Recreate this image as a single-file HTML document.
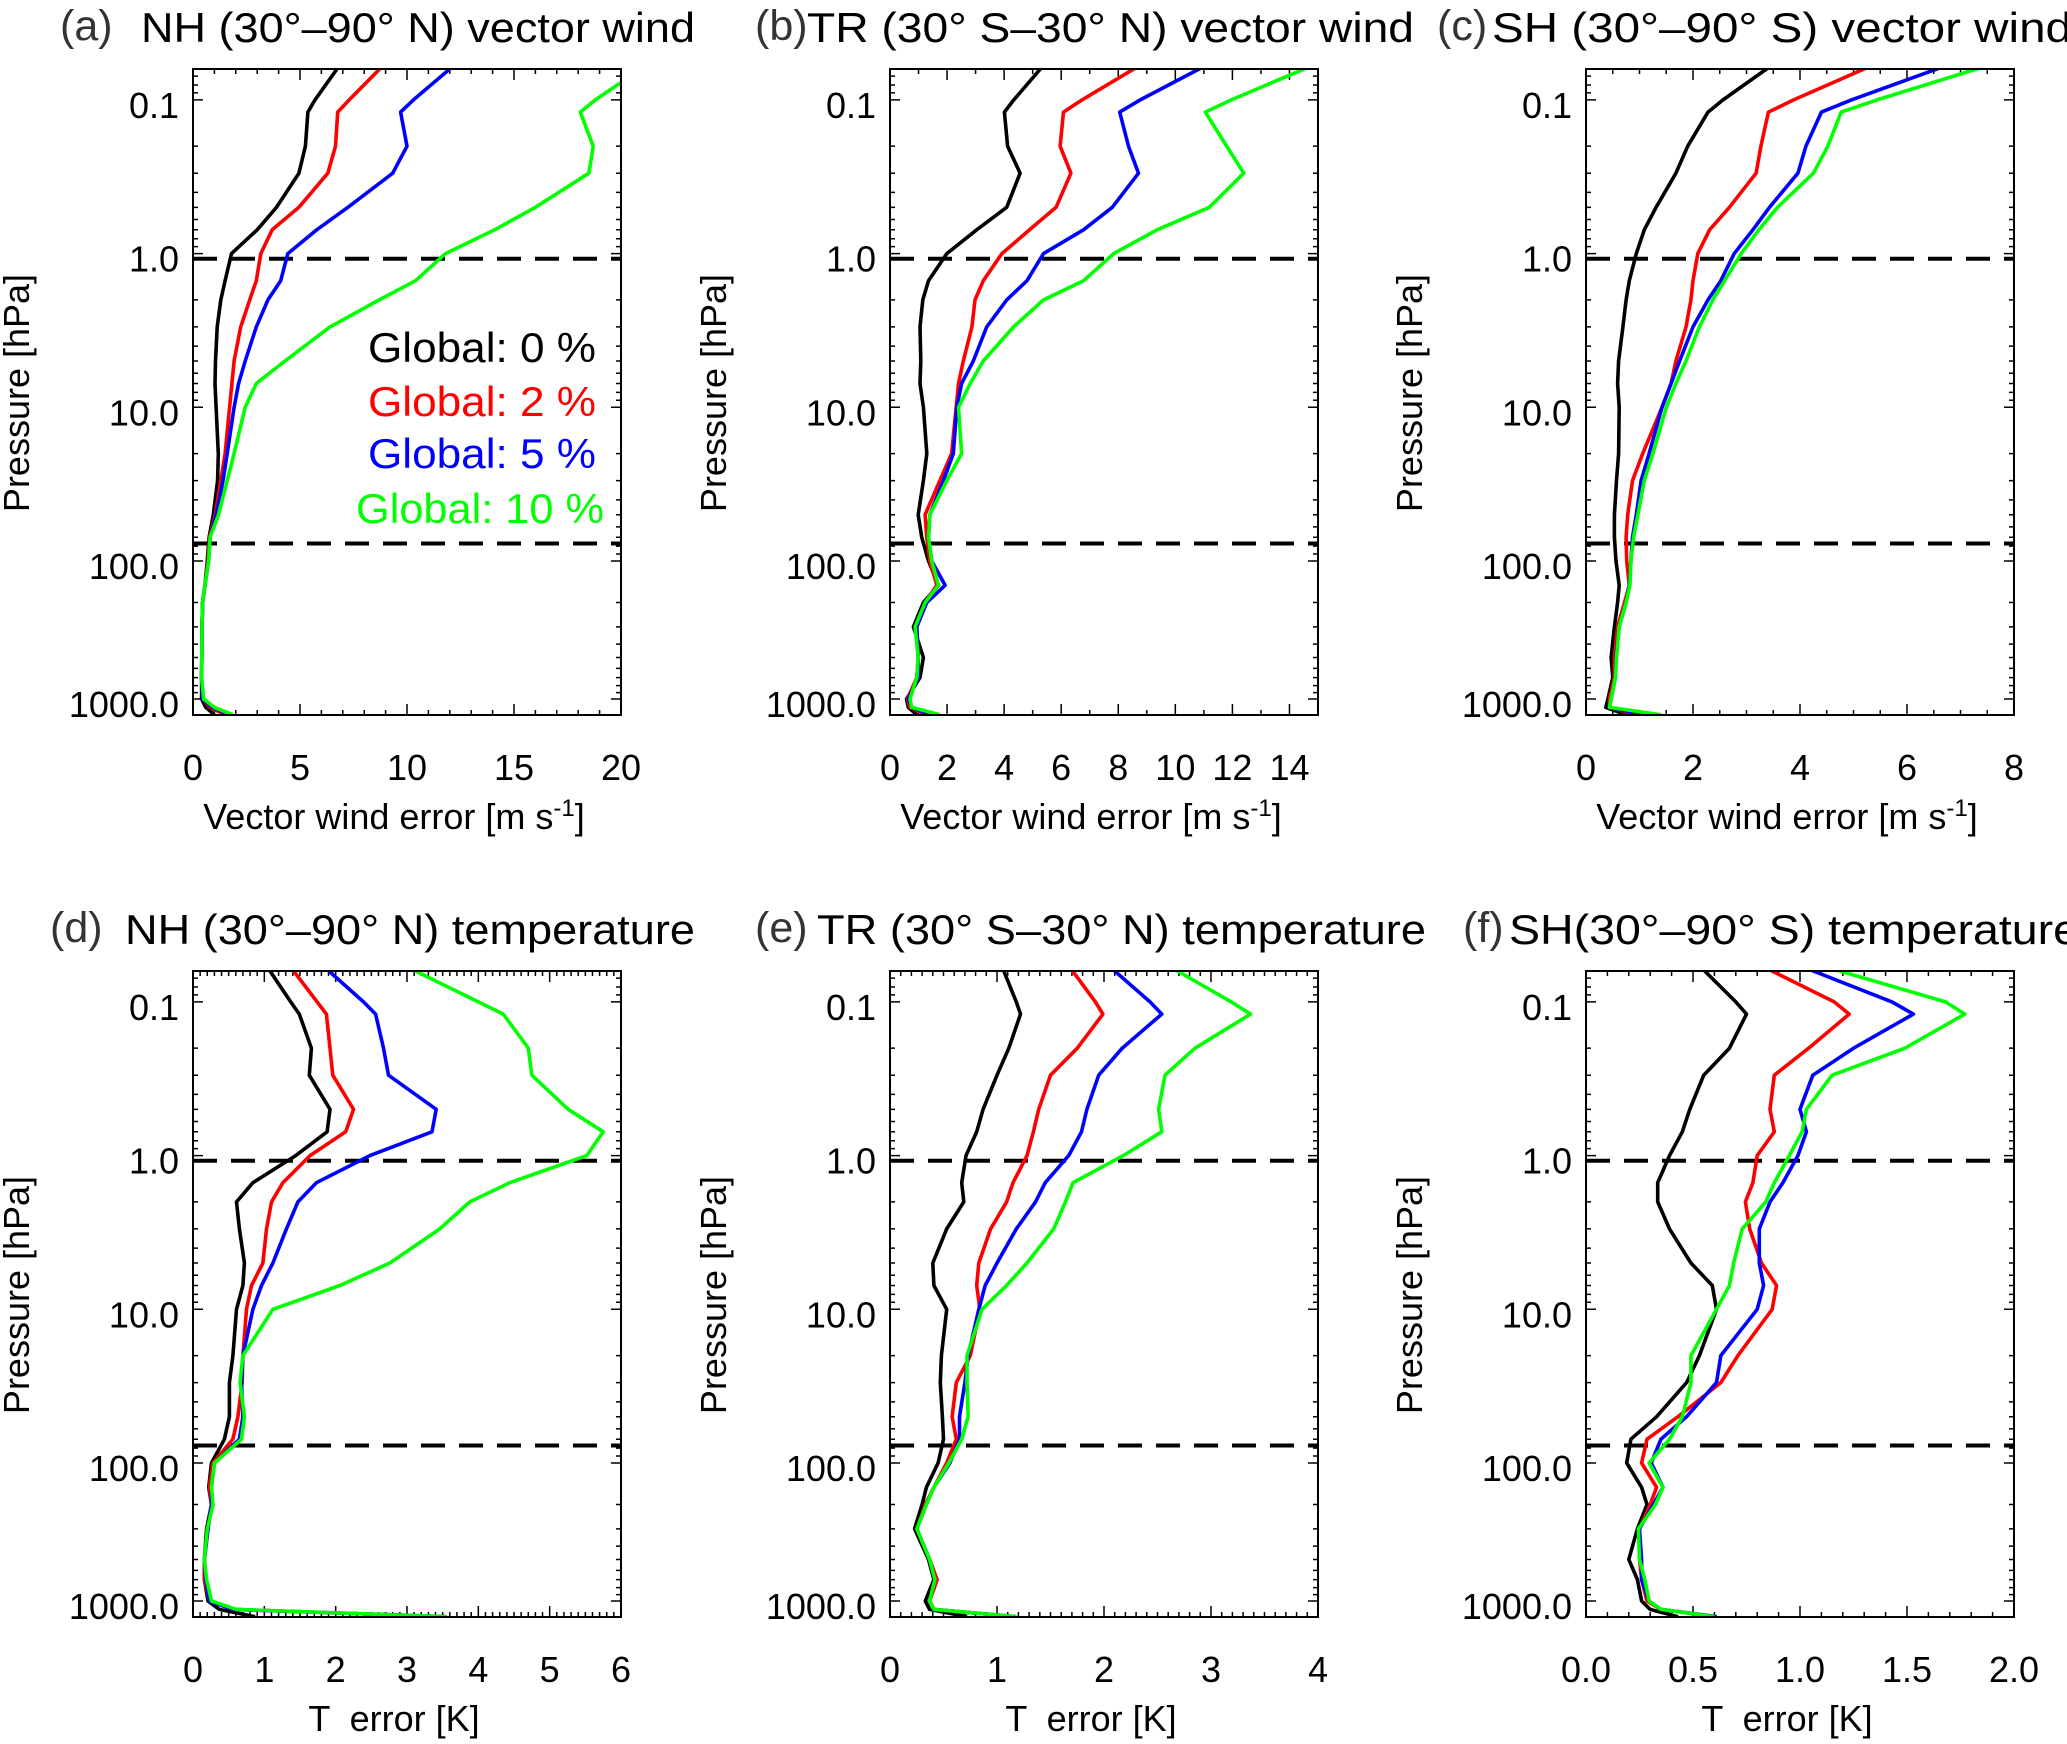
<!DOCTYPE html>
<html><head><meta charset="utf-8">
<style>
html,body{margin:0;padding:0;background:#fff;overflow:hidden;}
svg{display:block;font-family:"Liberation Sans",Arial,sans-serif;}
</style></head>
<body>
<svg id="fig" width="2067" height="1744" viewBox="0 0 2067 1744" xmlns="http://www.w3.org/2000/svg"></svg>
<script>
// Shared pressure levels (hPa)
const P = [0.062,0.1,0.12,0.2,0.3,0.5,0.7,1,1.5,2,3,5,7,10,20,30,50,70,100,150,200,300,500,700,1000,1150,1300];
const dashedLevels = [1.08, 77];

// (a) NH vector wind
const windNH0  = [6.76,5.7,5.37,5.25,4.95,3.9,3.0,1.8,1.5,1.3,1.13,1.05,1.03,1.08,1.18,1.15,0.95,0.75,0.67,0.56,0.45,0.42,0.41,0.4,0.4,0.6,1.0];
const windNH2  = [8.77,7.3,6.76,6.66,6.3,4.95,3.7,3.17,2.96,2.65,2.23,1.92,1.82,1.71,1.5,1.3,1.04,0.77,0.7,0.56,0.45,0.42,0.41,0.4,0.45,0.8,1.5];
const windNH5  = [12.05,10.3,9.7,10.0,9.33,7.24,5.78,4.43,4.1,3.5,2.96,2.44,2.13,1.92,1.6,1.4,1.09,0.8,0.73,0.56,0.45,0.42,0.41,0.4,0.45,0.9,1.7];
const windNH10 = [21,18.8,18.1,18.7,18.5,16.0,14.1,11.8,10.4,8.7,6.4,4.3,2.96,2.44,1.92,1.6,1.19,0.8,0.73,0.56,0.45,0.42,0.41,0.4,0.5,1.0,1.85];
// (b) TR vector wind
const windTR0  = [5.3,4.34,4.01,4.12,4.56,4.09,3.04,1.99,1.35,1.15,1.05,1.08,1.05,1.17,1.29,1.17,0.99,1.11,1.35,1.70,1.17,0.82,1.17,1.05,0.58,0.64,0.94];
const windTR2  = [8.6,6.73,6.08,5.96,6.34,5.82,4.89,3.92,3.27,2.98,2.87,2.57,2.40,2.32,2.16,1.75,1.23,1.29,1.40,1.64,1.23,0.94,0.99,0.94,0.61,0.70,1.29];
const windTR5  = [10.9,8.77,8.05,8.36,8.71,7.79,6.78,5.38,4.8,4.09,3.39,2.92,2.51,2.34,2.22,1.87,1.40,1.35,1.46,1.93,1.29,0.94,0.99,0.99,0.64,0.76,1.40];
const windTR10 = [14.6,11.96,11.05,11.8,12.4,11.19,9.36,7.84,6.78,5.38,4.33,3.27,2.81,2.40,2.51,1.99,1.40,1.35,1.46,1.70,1.23,0.88,0.99,0.94,0.70,0.76,1.75];
// (c) SH vector wind
const windSH0  = [3.40,2.56,2.28,1.90,1.68,1.31,1.09,0.94,0.81,0.75,0.69,0.61,0.59,0.62,0.61,0.57,0.53,0.53,0.56,0.62,0.59,0.53,0.47,0.50,0.41,0.37,0.75];
const windSH2  = [5.24,3.88,3.41,3.27,3.18,2.68,2.31,2.09,2.0,1.96,1.87,1.68,1.59,1.42,1.06,0.87,0.78,0.75,0.76,0.81,0.72,0.59,0.53,0.53,0.44,0.44,0.94];
const windSH5  = [6.61,4.96,4.40,4.11,3.96,3.43,3.12,2.77,2.52,2.28,2.0,1.75,1.59,1.42,1.18,1.03,0.94,0.87,0.84,0.81,0.75,0.62,0.56,0.55,0.47,0.44,1.06];
const windSH10 = [7.36,5.44,4.77,4.52,4.25,3.58,3.23,2.90,2.59,2.37,2.12,1.87,1.68,1.50,1.25,1.09,0.97,0.89,0.84,0.82,0.75,0.62,0.57,0.55,0.47,0.44,1.40];
// (d) NH temperature
const tempNH0  = [1.07,1.37,1.49,1.66,1.63,1.92,1.88,1.44,0.84,0.61,0.65,0.72,0.70,0.61,0.56,0.51,0.51,0.44,0.26,0.22,0.26,0.19,0.16,0.16,0.21,0.37,0.87];
const tempNH2  = [1.40,1.74,1.87,1.92,1.96,2.25,2.14,1.64,1.26,1.10,1.03,0.98,0.82,0.75,0.70,0.69,0.63,0.56,0.28,0.23,0.26,0.21,0.16,0.16,0.23,0.56,3.55];
const tempNH5  = [1.89,2.39,2.56,2.67,2.74,3.41,3.35,2.48,1.73,1.47,1.31,1.12,0.96,0.84,0.70,0.68,0.70,0.65,0.30,0.26,0.26,0.21,0.16,0.18,0.23,0.56,3.55];
const tempNH10 = [3.09,4.0,4.35,4.70,4.75,5.26,5.75,5.52,4.44,3.88,3.46,2.76,2.06,1.12,0.70,0.66,0.72,0.68,0.30,0.26,0.28,0.20,0.16,0.19,0.26,0.61,3.55];
// (e) TR temperature
const tempTR0  = [1.06,1.18,1.22,1.11,1.0,0.87,0.81,0.71,0.67,0.69,0.53,0.40,0.41,0.53,0.48,0.47,0.49,0.50,0.45,0.34,0.30,0.23,0.36,0.41,0.33,0.37,0.72];
const tempTR2  = [1.70,1.92,1.99,1.75,1.50,1.39,1.34,1.28,1.15,1.09,0.94,0.83,0.81,0.84,0.75,0.62,0.58,0.62,0.53,0.41,0.33,0.25,0.37,0.44,0.37,0.41,1.18];
const tempTR5  = [2.09,2.43,2.54,2.17,1.95,1.84,1.79,1.67,1.45,1.36,1.18,1.0,0.89,0.83,0.73,0.70,0.65,0.65,0.56,0.41,0.34,0.25,0.37,0.42,0.37,0.41,1.18];
const tempTR10 = [2.67,3.19,3.37,2.85,2.57,2.51,2.54,2.18,1.71,1.64,1.53,1.28,1.09,0.86,0.72,0.72,0.73,0.67,0.55,0.41,0.34,0.25,0.37,0.42,0.37,0.41,1.18];
// (f) SH temperature
const tempSH0  = [0.55,0.70,0.75,0.67,0.55,0.485,0.45,0.39,0.335,0.335,0.39,0.49,0.59,0.61,0.53,0.47,0.33,0.21,0.19,0.26,0.285,0.24,0.20,0.24,0.26,0.30,0.43];
const tempSH2  = [0.86,1.16,1.23,1.04,0.88,0.86,0.88,0.80,0.78,0.745,0.765,0.82,0.89,0.87,0.71,0.63,0.43,0.285,0.26,0.33,0.30,0.25,0.25,0.26,0.285,0.35,0.61];
const tempSH5  = [1.05,1.43,1.53,1.25,1.06,1.0,1.03,0.99,0.92,0.86,0.81,0.81,0.83,0.80,0.63,0.61,0.47,0.35,0.305,0.36,0.315,0.25,0.26,0.26,0.295,0.35,0.61];
const tempSH10 = [1.17,1.68,1.77,1.49,1.15,1.03,1.01,0.95,0.88,0.84,0.73,0.69,0.67,0.61,0.49,0.49,0.45,0.39,0.295,0.36,0.325,0.245,0.25,0.275,0.295,0.35,0.60];

// Tick labels
const yTickValues = [0.1,1,10,100,1000];
const yTickLabels = ['0.1','1.0','10.0','100.0','1000.0'];
const xTicksA = ['0','5','10','15','20'];
const xTicksB = ['0','2','4','6','8','10','12','14'];
const xTicksC = ['0','2','4','6','8'];
const xTicksD = ['0','1','2','3','4','5','6'];
const xTicksE = ['0','1','2','3','4'];
const xTicksF = ['0.0','0.5','1.0','1.5','2.0'];
const legendLabels = ['Global: 0 %','Global: 2 %','Global: 5 %','Global: 10 %'];
const colors = ['#000000','#ff0000','#0000ff','#00ff00'];

const panels = [
 {id:'a',left:193,row:0,xmax:20,major:5,minor:1,ticks:xTicksA,series:[windNH0,windNH2,windNH5,windNH10],
  lx:60,tx:141,tw:554,title:'NH (30°–90° N) vector wind',xt:'wind'},
 {id:'b',left:890,row:0,xmax:15,major:2,minor:1,ticks:xTicksB,series:[windTR0,windTR2,windTR5,windTR10],
  lx:755,tx:807,tw:607,title:'TR (30° S–30° N) vector wind',xt:'wind'},
 {id:'c',left:1586,row:0,xmax:8,major:2,minor:0.5,ticks:xTicksC,series:[windSH0,windSH2,windSH5,windSH10],
  lx:1437,tx:1492,tw:580,title:'SH (30°–90° S) vector wind',xt:'wind'},
 {id:'d',left:193,row:1,xmax:6,major:1,minor:0.1,ticks:xTicksD,series:[tempNH0,tempNH2,tempNH5,tempNH10],
  lx:50,tx:125,tw:570,title:'NH (30°–90° N) temperature',xt:'temp'},
 {id:'e',left:890,row:1,xmax:4,major:1,minor:0.1,ticks:xTicksE,series:[tempTR0,tempTR2,tempTR5,tempTR10],
  lx:755,tx:817,tw:609,title:'TR (30° S–30° N) temperature',xt:'temp'},
 {id:'f',left:1586,row:1,xmax:2,major:0.5,minor:0.1,ticks:xTicksF,series:[tempSH0,tempSH2,tempSH5,tempSH10],
  lx:1463,tx:1509,tw:570,title:'SH(30°–90° S) temperature',xt:'temp'}
];

const NS='http://www.w3.org/2000/svg';
const fig=document.getElementById('fig');
const W=428, TOP=69, BOT=715, ROWOFF=902;
function el(tag,parent){const e=document.createElementNS(NS,tag);parent.appendChild(e);return e;}
function yOf(p,row){const y = p<=100 ? 561+153.7*Math.log10(p/100) : 561+138*Math.log10(p/100); return y+row*ROWOFF;}

panels.forEach(pn=>{
  const off=pn.row*ROWOFF, L=pn.left, T=TOP+off, B=BOT+off;
  const xOf=v=>L+v/pn.xmax*W;
  const g=el('g',fig);
  
  

  const lab=el('text',g);
  
  
  lab.setAttribute('x',pn.lx);lab.setAttribute('y',40+off);
  lab.setAttribute('font-size','43');lab.setAttribute('fill','#333');
  lab.textContent='('+pn.id+')';
  const tt=el('text',g);
  
  
  tt.setAttribute('x',pn.tx);tt.setAttribute('y',42+off);
  tt.setAttribute('font-size','42');
  tt.setAttribute('textLength',pn.tw);tt.setAttribute('lengthAdjust','spacingAndGlyphs');
  tt.textContent=pn.title;

  const cp=el('clipPath',g);cp.setAttribute('id','clip'+pn.id);
  const cr=el('rect',cp);cr.setAttribute('x',L);cr.setAttribute('y',T);cr.setAttribute('width',W);cr.setAttribute('height',B-T);

  const yt=el('g',g);
  
  
  let d='';
  for(let e=-2;e<=3;e++){for(let m=1;m<=9;m++){const p=m*Math.pow(10,e);if(p<0.062||p>1300)continue;const y=yOf(p,pn.row);const len=m===1?10:5;d+=`M${L} ${y}h${len}M${L+W} ${y}h${-len}`;}}
  const nMin=Math.round(pn.xmax/pn.minor);
  for(let i=0;i<=nMin;i++){const v=i*pn.minor;const isMaj=Math.abs(v/pn.major-Math.round(v/pn.major))<1e-6;const len=isMaj?11:5;const x=xOf(v);d+=`M${x} ${B}v${-len}M${x} ${T}v${len}`;}
  const tk=el('path',yt);tk.setAttribute('d',d);tk.setAttribute('stroke','#000');tk.setAttribute('stroke-width','1.5');tk.setAttribute('fill','none');
  yTickValues.forEach((p,i)=>{
    const t=el('text',yt);
    
    
    t.setAttribute('x',L-14);t.setAttribute('y',yOf(p,pn.row)+18);
    t.setAttribute('font-size','36');t.setAttribute('text-anchor','end');
    t.textContent=yTickLabels[i];
  });
  const yl=el('text',yt);
  
  
  yl.setAttribute('transform',`translate(${L-164},${393+off}) rotate(-90)`);
  yl.setAttribute('font-size','36');yl.setAttribute('text-anchor','middle');
  yl.textContent='Pressure [hPa]';

  const xa=el('g',g);
  
  
  pn.ticks.forEach((lb,i)=>{
    const t=el('text',xa);
    
    
    t.setAttribute('x',xOf(i*pn.major));t.setAttribute('y',780+off);
    t.setAttribute('font-size','36');t.setAttribute('text-anchor','middle');
    t.textContent=lb;
  });
  const xl=el('text',xa);
  
  
  xl.setAttribute('x',L+201);xl.setAttribute('y',829+off);
  xl.setAttribute('font-size','36');xl.setAttribute('text-anchor','middle');
  xl.setAttribute('style','white-space:pre');
  if(pn.xt==='wind'){
    xl.textContent='Vector wind error [m s';
    const s=el('tspan',xl);s.setAttribute('dy','-13');s.setAttribute('font-size','24');s.textContent='-1';
    const s2=el('tspan',xl);s2.setAttribute('dy','13');s2.textContent=']';
  } else {
    xl.textContent='T  error [K]';
  }

  dashedLevels.forEach(p=>{
    const ln=el('line',g);
    
    
    const y=yOf(p,pn.row);
    ln.setAttribute('x1',L);ln.setAttribute('x2',L+W);ln.setAttribute('y1',y);ln.setAttribute('y2',y);
    ln.setAttribute('stroke','#000');ln.setAttribute('stroke-width','4');ln.setAttribute('stroke-dasharray','24 14');
  });

  const sg=el('g',g);sg.setAttribute('clip-path',`url(#clip${pn.id})`);
  pn.series.forEach((arr,si)=>{
    const pl=el('polyline',sg);
    
    
    pl.setAttribute('points',arr.map((v,i)=>xOf(v).toFixed(1)+','+yOf(P[i],pn.row).toFixed(1)).join(' '));
    pl.setAttribute('fill','none');pl.setAttribute('stroke',colors[si]);pl.setAttribute('stroke-width','3.6');
    pl.setAttribute('stroke-linejoin','round');
  });

  const fr=el('rect',g);
  
  
  fr.setAttribute('x',L);fr.setAttribute('y',T);fr.setAttribute('width',W);fr.setAttribute('height',B-T);
  fr.setAttribute('fill','none');fr.setAttribute('stroke','#000');fr.setAttribute('stroke-width','2');

  if(pn.id==='a'){
    const lg=el('g',g);
    
    
    const bl=[362,416,468,523];
    const lw=[228,228,228,248];
    legendLabels.forEach((s,i)=>{
      const t=el('text',lg);
      
      
      t.setAttribute('x',i===3?604:596);t.setAttribute('y',bl[i]);
      t.setAttribute('font-size','42');t.setAttribute('text-anchor','end');
      t.setAttribute('textLength',lw[i]);t.setAttribute('lengthAdjust','spacingAndGlyphs');
      t.setAttribute('fill',colors[i]);
      t.textContent=s;
    });
  }
});
</script>
</body></html>
